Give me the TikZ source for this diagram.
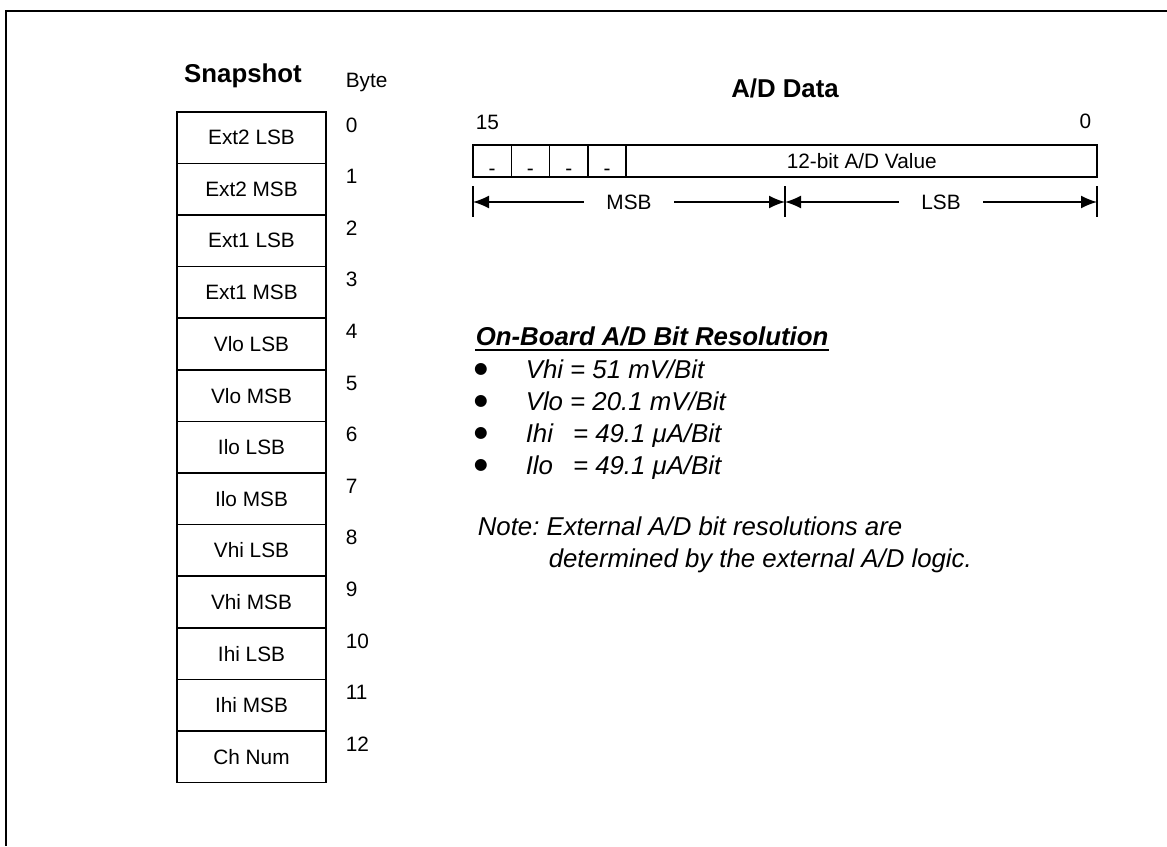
\documentclass[tikz,border=0pt]{standalone}
\usepackage{fontspec}
\setmainfont{Liberation Sans}
\newfontfamily\dejavu{DejaVu Sans}
\usetikzlibrary{arrows.meta}
\newcommand\fsmall{\fontsize{10.4pt}{12.5pt}\selectfont}
\newcommand\fbig{\fontsize{12.9pt}{15.5pt}\selectfont}
\frenchspacing
\begin{document}
\begin{tikzpicture}[x=0.5pt,y=-0.5pt,line width=0.8pt,
  snapbox/.style={draw,minimum width=74.5pt,minimum height=25.8pt,inner sep=0pt,font=\fsmall,anchor=north},
  bitcell/.style={draw,minimum width=19.15pt,minimum height=16pt,inner sep=0pt,outer sep=0pt,anchor=north west},
  valcell/.style={draw,minimum width=235.5pt,minimum height=16pt,inner sep=0pt,outer sep=0pt,anchor=north west,font=\fsmall},
  txt/.style={inner sep=0pt,font=\fsmall},
  bigtxt/.style={inner sep=0pt,font=\fbig\itshape},
  title/.style={inner sep=0pt,font=\fbig\bfseries},
  bulletmark/.style={inner sep=0pt,font=\dejavu\fontsize{7.8pt}{8.5pt}\selectfont,anchor=base},
  dimline/.style={{Latex[length=8pt,width=6.5pt]}-{Latex[length=8pt,width=6.5pt]}},
  gaplabel/.style={fill=white,inner xsep=11pt,inner ysep=1pt,font=\fsmall}]
\useasboundingbox (0,0) rectangle (1167,846);
% outer frame (only top and left edges visible)
\draw[line width=0.9pt] (1167,11) -- (6,11) -- (6,846);

% Snapshot column
\node[title,anchor=base] (snap) at (243,82) {Snapshot};
\node[txt,anchor=base west] (byte) at (345,87) {Byte};
\foreach \t [count=\i from 0] in {Ext2 LSB,Ext2 MSB,Ext1 LSB,Ext1 MSB,Vlo LSB,Vlo MSB,Ilo LSB,Ilo MSB,Vhi LSB,Vhi MSB,Ihi LSB,Ihi MSB,Ch Num}{
  \node[snapbox] (b\i) at (251.5,111+51.6*\i) {\t};
  \node[txt,anchor=base west] (n\i) at (345,132+51.6*\i) {\i};
}

% A/D Data register
\node[title,anchor=base] (adtitle) at (785,97) {A/D Data};
\node[txt,anchor=base west] (b15) at (475,129) {15};
\node[txt,anchor=base east] (b0) at (1092,128) {0};
\node[bitcell] (c1) at (473,145) {};
\node[bitcell] (c2) at (c1.north east) {};
\node[bitcell] (c3) at (c2.north east) {};
\node[bitcell] (c4) at (c3.north east) {};
\node[valcell] (val) at (c4.north east) {12-bit A/D Value};
\foreach \k in {1,2,3,4}{
  \node[txt] (d\k) at ([yshift=-5.5pt]c\k.center) {-};
}

% dimension ticks and arrows
\coordinate (t1a) at (473,186); \coordinate (t1b) at (473,217);
\coordinate (t2a) at (785,186); \coordinate (t2b) at (785,217);
\coordinate (t3a) at (1097,186); \coordinate (t3b) at (1097,217);
\draw (t1a) -- (t1b);
\draw (t2a) -- (t2b);
\draw (t3a) -- (t3b);
\coordinate (m1) at (473,202);
\coordinate (m2) at (785,202);
\coordinate (m3) at (1097,202);
\draw[dimline] (m1) -- node[gaplabel] (msb) {MSB} (m2);
\draw[dimline] (m2) -- node[gaplabel] (lsb) {LSB} (m3);

% resolution list
\node[inner sep=0pt,font=\fbig\bfseries\itshape,anchor=base west] (head) at (475,345) {On-Board A/D Bit Resolution};
\draw[line width=1.2pt] ([yshift=-2.5pt]head.base west) -- ([yshift=-2.5pt]head.base east);
\foreach \y/\t [count=\i] in {378/{Vhi = 51 mV/Bit},410/{Vlo = 20.1 mV/Bit},442/{Ihi\hspace{10pt}= 49.1 μA/Bit},474/{Ilo\hspace{10pt}= 49.1 μA/Bit}}{
  \node[bulletmark] (bul\i) at (481,\y-4.5) {●};
  \node[bigtxt,anchor=base west] (it\i) at (525,\y) {\t};
}
\node[bigtxt,anchor=base west] (note1) at (477,535) {Note: External A/D bit resolutions are};
\node[bigtxt,anchor=base west] (note2) at (548,567) {determined by the external A/D logic.};
\end{tikzpicture}
\end{document}
